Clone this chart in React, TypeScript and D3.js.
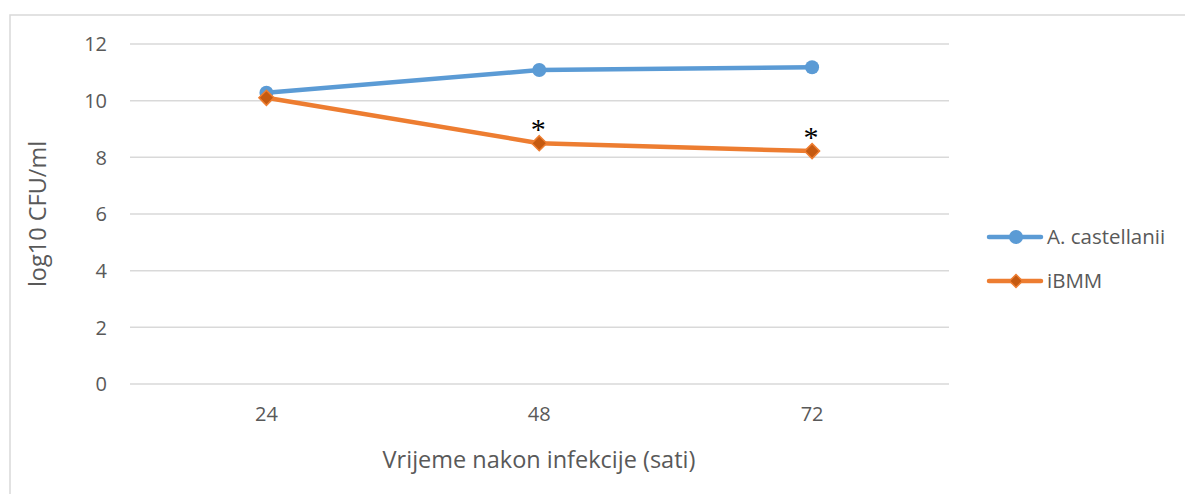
import React from "react";
import * as d3 from "d3";

const categories = ["24", "48", "72"];
const castellanii = [10.28, 11.08, 11.18];
const ibmm = [10.1, 8.5, 8.22];
const significant = [false, true, true];
const yTicks = [0, 2, 4, 6, 8, 10, 12];
const seriesNames = ["A. castellanii", "iBMM"];

const W = 1185;
const H = 494;
const BLUE = "#5B9BD5";
const ORANGE = "#ED7D31";
const FONT = "'Open Sans', 'Liberation Sans', sans-serif";

export default function App() {
  const x = d3.scaleBand<string>().domain(categories).range([130, 948.5]);
  const y = d3.scaleLinear().domain([0, 12]).range([384, 44]);
  const cx = (c: string) => (x(c) as number) + x.bandwidth() / 2;
  const line = d3
    .line<number>()
    .x((_, i) => cx(categories[i]))
    .y((d) => y(d));

  const diamond = (px: number, py: number, r: number) =>
    `M${px},${py - r}L${px + r},${py}L${px},${py + r}L${px - r},${py}Z`;

  const starSize = 30;

  return (
    <svg
      width={W}
      height={H}
      style={{ position: "absolute", left: 0, top: 0, background: "#fff" }}
      fontFamily={FONT}
    >
      <rect x={10} y={15} width={W + 10} height={H + 10} fill="#fff" stroke="#d9d9d9" strokeWidth={1.5} />
      {yTicks.map((t) => (
        <g key={t}>
          <line x1={130} x2={949} y1={y(t)} y2={y(t)} stroke="#d9d9d9" strokeWidth={1.5} />
          <text x={107} y={y(t)} dy="0.36em" textAnchor="end" fontSize={20} fill="#595959">
            {t}
          </text>
        </g>
      ))}
      {categories.map((c) => (
        <text key={c} x={cx(c)} y={414} dy="0.36em" textAnchor="middle" fontSize={20} fill="#595959">
          {c}
        </text>
      ))}
      <text x={539} y={460} dy="0.36em" textAnchor="middle" fontSize={23.5} fill="#595959">
        Vrijeme nakon infekcije (sati)
      </text>
      <text
        transform={`translate(38,${214}) rotate(-90)`}
        dy="0.36em"
        textAnchor="middle"
        fontSize={23.5}
        fill="#595959"
      >
        log10 CFU/ml
      </text>

      <path d={line(castellanii) || ""} fill="none" stroke={BLUE} strokeWidth={4.5} strokeLinejoin="round" strokeLinecap="round" />
      {castellanii.map((v, i) => (
        <circle key={i} cx={cx(categories[i])} cy={y(v)} r={7} fill={BLUE} />
      ))}
      <path d={line(ibmm) || ""} fill="none" stroke={ORANGE} strokeWidth={4.5} strokeLinejoin="round" strokeLinecap="round" />
      {ibmm.map((v, i) => (
        <path key={i} d={diamond(cx(categories[i]), y(v), 7.5)} fill="#C55A11" stroke={ORANGE} strokeWidth={1.5} />
      ))}
      {ibmm.map((v, i) =>
        significant[i] ? (
          <text
            key={i}
            x={cx(categories[i]) - 1}
            y={y(v) - 21 + starSize * 0.55}
            textAnchor="middle"
            fontSize={starSize}
            fill="#000"
            fontFamily="'Liberation Serif', serif"
          >
            *
          </text>
        ) : null
      )}

      {/* legend */}
      <g>
        <line x1={989} x2={1041} y1={237} y2={237} stroke={BLUE} strokeWidth={4.5} strokeLinecap="round" />
        <circle cx={1016} cy={237} r={7} fill={BLUE} />
        <text x={1047} y={237} dy="0.36em" fontSize={20.5} fill="#595959">
          {seriesNames[0]}
        </text>
        <line x1={989} x2={1041} y1={281} y2={281} stroke={ORANGE} strokeWidth={4.5} strokeLinecap="round" />
        <path d={diamond(1016, 281, 6.5)} fill="#C55A11" stroke={ORANGE} strokeWidth={1.5} />
        <text x={1047} y={281} dy="0.36em" fontSize={20.5} fill="#595959">
          {seriesNames[1]}
        </text>
      </g>
    </svg>
  );
}
